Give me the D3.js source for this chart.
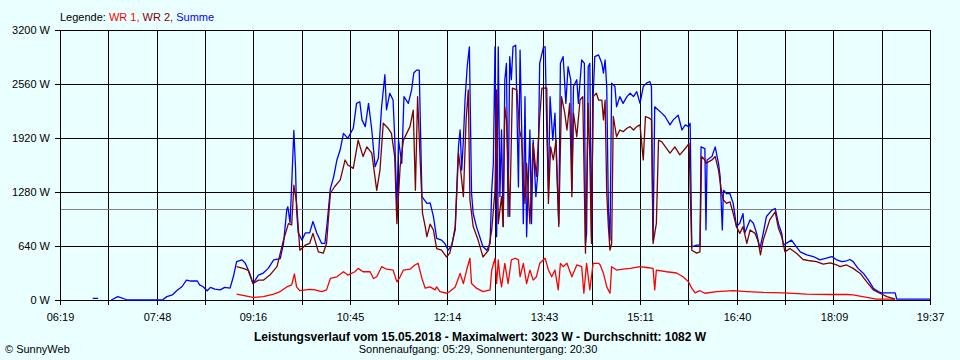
<!DOCTYPE html>
<html>
<head>
<meta charset="utf-8">
<script src="https://cdnjs.cloudflare.com/ajax/libs/d3/7.8.5/d3.min.js"></script>
<style>
  body { margin: 0; background: #eaffff; }
  svg { display: block; }
  text { font-family: "Liberation Sans", Arial, sans-serif; font-size: 11px; fill: black; }
</style>
</head>
<body>
<div id="chart"></div>
<script>
// x axis labels (time of day), y axis ticks (W)
var xTickLabels = ["06:19", "07:48", "09:16", "10:45", "12:14", "13:43", "15:11", "16:40", "18:09", "19:37"];
var yTicks = [0, 640, 1280, 1920, 2560, 3200];
var average = 1082;

// Summe (blue) - minutes since midnight / watts
var summeTimes = [409, 414, 415, 426, 432, 441, 473, 477, 482, 486, 491, 495, 499, 505, 507, 510, 514, 517, 521, 526,
  530, 535, 538, 541, 546, 549, 553, 556, 561, 565, 570, 575, 581, 584, 587, 588, 590, 591.5, 593.5, 595,
  596, 597.5, 601, 604, 608, 611, 614.5, 619, 622, 624, 627, 630, 633, 636, 639, 643, 648, 651, 654, 656,
  659, 662, 665, 668, 671, 674, 677, 678.5, 681.5, 684.5, 686, 688, 689.5, 692.5, 694.5, 698.5, 701.5, 703.5, 706, 708.5,
  711, 715.5, 718.5, 721.5, 724.5, 729, 732, 735, 738.5, 741.5, 744.5, 746, 747.5, 749, 750.5, 752.5, 754.5, 756.5, 758, 761,
  764, 767, 770.5, 773.5, 775, 776.5, 778, 779.5, 781, 782.5, 784, 785.5, 787, 788.5, 790, 791.5, 793, 794.5, 797, 799.5,
  801, 802.5, 804, 805.5, 807, 810, 811.5, 813, 815.5, 817.5, 819, 822.5, 824, 825.5, 827, 828.5, 831, 833, 834.5, 836.5,
  838, 840.5, 843, 845, 847.5, 848.5, 850, 853, 854.5, 857.5, 860, 861, 862, 863.5, 865, 866.5, 868, 869.5, 873, 876,
  877.5, 879, 880.5, 882, 883.5, 885, 888, 889.5, 892.5, 895.5, 899, 902, 905, 908, 911, 914, 917, 920, 921.5, 923,
  924.5, 928, 931, 934, 938.5, 941.5, 946, 949.5, 952.5, 955.5, 957, 958.5, 963, 966, 967, 970.5, 971.5, 972.5, 977, 980,
  983, 984.5, 986.5, 987.5, 990.5, 993.5, 996.5, 999.5, 1002.5, 1005.5, 1007, 1012, 1015, 1018, 1021, 1024, 1027, 1032, 1035, 1038,
  1041, 1042.5, 1050, 1054.5, 1058, 1064, 1070, 1076, 1082, 1087, 1091.5, 1096, 1100.5, 1103.5, 1106.5, 1111, 1116, 1120.5, 1125, 1129.5,
  1132.5, 1145, 1146.5, 1177];
var summeValues = [20, 20, null, 0, 40, 0, 0, 40, 60, 110, 160, 235, 225, 225, 180, 160, 110, 150, 130, 120,
  150, 140, 275, 455, 475, 435, 315, 195, 295, 315, 375, 475, 490, 670, 1070, 1105, 915, 1360, 2010, 1580,
  1070, 795, 710, 795, 795, 930, 795, 670, 670, 905, 1320, 1460, 1660, 1780, 1975, 1915, 2035, 2330, 2350, 2135,
  2055, 2330, 2015, 1580, 1680, 2290, 2670, 2255, 2450, 2370, 1935, 1070, 1895, 1620, 2410, 2330, 2490, 2690, 2725, 2725,
  1225, 1145, 1150, 990, 730, 710, 670, 590, 650, 870, 1820, 2015, 1540, 1900, 2370, 2765, 3000, 1265, 1025, 870,
  750, 630, 590, 670, 1300, 1620, 3000, 750, 3000, 1225, 2015, 870, 2610, 2805, 990, 2885, 2610, 3000, 3020, 1340,
  2960, 2015, 905, 2410, 750, 2015, 905, 1895, 1225, 1540, 2805, 3000, 3000, 2015, 1300, 2410, 1895, 2215, 1620, 905,
  2805, 2885, 2330, 2765, 2610, 1300, 2530, 2610, 2330, 2845, 2805, 670, 790, 2765, 2805, 750, 2410, 2885, 2905, 2805,
  2690, 2845, 2530, 1070, 710, 2570, 2530, 2290, 2410, 2330, 2410, 2450, 2410, 2470, 2330, 2530, 2570, 2590, 2530, 710,
  2290, 2250, 2215, 2175, 2075, 2135, 2190, 2015, 2075, 2055, 2095, 630, 650, 650, 1815, 1795, 830, 1660, 1700, 1815,
  1620, 1465, 830, 1300, 1260, 1260, 1145, 870, 910, 1025, 790, 950, 910, 790, 610, 790, 990, 1065, 1085, 905,
  790, 650, 710, 630, 570, 535, 515, 475, 495, 515, 475, 455, 465, 480, 455, 375, 315, 235, 140, 100,
  85, 85, 10, 10];

// WR 2 (dark red)
var wr2Times = [541, 547, 551.5, 556, 561, 565.5, 571.5, 578, 584, 588.5, 591.5, 593.5, 596, 599, 604, 608, 611, 616, 620.5, 623.5,
  627, 631, 636, 640.5, 643, 648, 652.5, 657, 660.5, 665, 669.5, 672.5, 675.5, 680, 683, 686, 688, 691, 694, 700,
  703, 705, 707, 709.5, 711.5, 714, 715.5, 718.5, 721.5, 724.5, 729, 733.5, 736.5, 741.5, 744.5, 746.5, 749, 751.5, 753.5, 755,
  758, 762.5, 767, 772, 775, 778, 779.5, 781, 784, 785.5, 787, 788.5, 791.5, 794, 798, 800.5, 802.5, 805.5, 807, 810,
  813, 816, 819, 821, 825.5, 827, 829, 831.5, 834, 836.5, 839, 842, 844, 846.5, 848.5, 850, 853, 856, 858.5, 861,
  863.5, 865, 866.5, 868, 871, 873, 876, 877.5, 879, 880.5, 882, 883.5, 885, 886.5, 889.5, 892.5, 895.5, 899, 902, 905,
  908, 911, 914, 916, 919.5, 921.5, 923, 926, 928, 931, 935.5, 938.5, 943, 947.5, 952.5, 956, 958.5, 963, 966, 967.5,
  970.5, 971.5, 977, 980, 983, 986, 987.5, 990.5, 993.5, 996.5, 999.5, 1002.5, 1005.5, 1009, 1012, 1016.5, 1019.5, 1021.5, 1024, 1027,
  1030, 1035, 1038, 1041, 1044, 1048.5, 1054.5, 1060.5, 1067, 1073, 1079, 1085.5, 1091.5, 1094.5, 1100.5, 1106.5, 1113, 1119, 1125, 1131,
  1137.5, 1145];
var wr2Values = [395, 375, 355, 195, 235, 235, 295, 395, 710, 905, 890, 1360, 1150, 590, 650, 670, 790, 570, 555, 670,
  1265, 1345, 1420, 1660, 1600, 1560, 1895, 1700, 1815, 1740, 1300, 1540, 2095, 2035, 1975, 1700, 905, 1580, 1895, 2055,
  2250, 1300, 2410, 1620, 1030, 870, 750, 900, 830, 610, 590, 510, 555, 830, 1740, 1540, 1225, 2135, 2490, 1185,
  870, 710, 510, 590, 830, 1300, 2490, 905, 1225, 870, 2290, 2135, 990, 2510, 2490, 2015, 1895, 1145, 1620, 905,
  1855, 1465, 2175, 2510, 2510, 1145, 1815, 1660, 1895, 870, 2410, 2215, 2015, 2330, 1225, 2215, 1935, 2370, 2410, 555,
  2330, 1660, 670, 2410, 2450, 2370, 2370, 2135, 2370, 1265, 870, 590, 670, 2175, 1935, 2015, 1995, 2035, 2055, 2015,
  2055, 2075, 1660, 2175, 2155, 2135, 670, 905, 1895, 1875, 1795, 1740, 1815, 1720, 1795, 1855, 590, 555, 570, 1700,
  1660, 1620, 1660, 1700, 1540, 1260, 1185, 1145, 1165, 1025, 870, 790, 870, 670, 830, 790, 690, 535, 710, 830,
  950, 1045, 850, 750, 570, 610, 555, 480, 465, 455, 425, 440, 415, 395, 415, 375, 315, 215, 120, 80,
  40, 10];

// WR 1 (red)
var wr1Times = [541, 556, 565.5, 575, 581, 587, 591.5, 594, 596, 599, 608, 613, 619, 623.5, 627, 633, 639, 643, 649.5, 652.5,
  657, 663.5, 666.5, 669.5, 674, 678.5, 684.5, 688, 691, 694, 700, 704.5, 707.5, 711, 714, 718.5, 723, 724.5, 727.5, 733.5,
  736.5, 741.5, 746, 749, 752, 755, 756.5, 761, 767, 773.5, 775, 778, 779.5, 781, 782.5, 784, 787, 790, 793, 796.5,
  799.5, 801, 804, 807, 810, 813, 816, 819, 824, 827, 830, 833, 836, 838, 840.5, 844, 848.5, 853, 857.5, 859.5,
  862, 865, 868, 869.5, 873, 874.5, 877.5, 880.5, 883.5, 885, 889.5, 895.5, 902, 911, 917, 923, 924.5, 926, 935.5, 944.5,
  950.5, 955.5, 958.5, 961.5, 966, 970.5, 981.5, 996.5, 1009, 1024, 1042.5, 1064, 1085.5, 1100.5, 1106.5, 1119, 1128, 1145];
var wr1Values = [70, 30, 40, 70, 100, 155, 180, 310, 155, 110, 125, 120, 100, 120, 255, 275, 335, 295, 335, 375,
  335, 335, 255, 275, 395, 365, 355, 215, 275, 355, 365, 415, 435, 255, 140, 155, 120, 155, 100, 80,
  100, 155, 315, 195, 355, 495, 195, 140, 100, 120, 355, 495, 195, 475, 275, 155, 435, 195, 475, 495,
  475, 275, 435, 195, 355, 235, 275, 435, 495, 355, 275, 355, 120, 435, 395, 435, 275, 415, 395, 80,
  435, 120, 435, 435, 435, 415, 315, 155, 80, 395, 355, 365, 375, 395, 385, 375, 120, 355, 335, 320,
  275, 215, 140, 85, 110, 80, 100, 110, 100, 90, 85, 70, 65, 65, 60, 30, 10, 10];

(function () {

  var margin = { top: 30, left: 60, right: 30, bottom: 60 },
      width = 960 - margin.left - margin.right,
      height = 360 - margin.top - margin.bottom;

  function toMinutes(s) {
    var p = s.split(":");
    return +p[0] * 60 + +p[1];
  }

  function zip(times, values) {
    return times.map(function (t, i) { return { t: t, v: values[i] }; });
  }

  var root = d3.select("#chart")
      .append("svg")
      .attr("width", 960)
      .attr("height", 360);

  root.append("rect")
      .attr("width", 960)
      .attr("height", 360)
      .attr("fill", "#eaffff");

  var svg = root.append("g")
      .attr("transform", "translate(" + margin.left + "," + margin.top + ")");

  var start = toMinutes(xTickLabels[0]),
      end = toMinutes(xTickLabels[xTickLabels.length - 1]);

  var xPositionScale = d3.scaleLinear()
    .domain([start, end])
    .range([0, width]);

  var yPositionScale = d3.scaleLinear()
    .domain([0, d3.max(yTicks)])
    .range([height, 0]);

  // grid lines every half label step
  var steps = (xTickLabels.length - 1) * 2;
  var gridTimes = d3.range(steps + 1).map(function (i) {
    return start + i * (end - start) / steps;
  });

  svg.selectAll(".vgrid")
     .data(gridTimes)
     .enter().append("line")
     .attr("class", "vgrid")
     .attr("x1", function (d) { return Math.round(xPositionScale(d)) + 0.5; })
     .attr("x2", function (d) { return Math.round(xPositionScale(d)) + 0.5; })
     .attr("y1", 0)
     .attr("y2", height + 5)
     .attr("stroke", "black")
     .attr("stroke-width", 1);

  svg.selectAll(".hgrid")
     .data(yTicks)
     .enter().append("line")
     .attr("class", "hgrid")
     .attr("x1", -5)
     .attr("x2", width + 1)
     .attr("y1", function (d) { return Math.round(yPositionScale(d)) + 0.5; })
     .attr("y2", function (d) { return Math.round(yPositionScale(d)) + 0.5; })
     .attr("stroke", "black")
     .attr("stroke-width", 1);

  // average line
  svg.append("line")
     .attr("x1", 1)
     .attr("x2", width)
     .attr("y1", Math.round(yPositionScale(average)) + 0.5)
     .attr("y2", Math.round(yPositionScale(average)) + 0.5)
     .attr("stroke", "#808080")
     .attr("stroke-width", 1);

  svg.selectAll(".ylabel")
     .data(yTicks)
     .enter().append("text")
     .attr("class", "ylabel")
     .text(function (d) { return d + " W"; })
     .attr("x", -10)
     .attr("y", function (d) { return yPositionScale(d) + 4; })
     .attr("text-anchor", "end");

  svg.selectAll(".xlabel")
     .data(xTickLabels)
     .enter().append("text")
     .attr("class", "xlabel")
     .text(function (d) { return d; })
     .attr("x", function (d) { return xPositionScale(toMinutes(d)) + 0.5; })
     .attr("y", height + 21)
     .attr("text-anchor", "middle");

  var line = d3.line()
    .defined(function (d) { return d.v !== null; })
    .x(function (d) { return xPositionScale(d.t); })
    .y(function (d) { return yPositionScale(d.v); });

  var series = [
    { data: zip(summeTimes, summeValues), color: "#0000ff" },
    { data: zip(wr1Times, wr1Values), color: "#ff0000" },
    { data: zip(wr2Times, wr2Values), color: "#800000" }
  ];

  svg.selectAll(".series")
     .data(series)
     .enter().append("path")
     .attr("class", "series")
     .attr("d", function (d) { return line(d.data); })
     .attr("fill", "none")
     .attr("stroke", function (d) { return d.color; })
     .attr("stroke-width", 1.3)
     .attr("stroke-linejoin", "round");

  // legend
  var legend = root.append("text")
     .attr("x", 60)
     .attr("y", 21);
  legend.append("tspan").text("Legende: ");
  legend.append("tspan").text("WR 1, ").style("fill", "#ff0000");
  legend.append("tspan").text("WR 2, ").style("fill", "#800000");
  legend.append("tspan").text("Summe").style("fill", "#0000ff");

  root.append("text")
     .text("Leistungsverlauf vom 15.05.2018 - Maximalwert: 3023 W - Durchschnitt: " + average + " W")
     .attr("x", 480)
     .attr("y", 341)
     .attr("text-anchor", "middle")
     .style("font-weight", "bold")
     .style("font-size", "12px");

  root.append("text")
     .text("Sonnenaufgang: 05:29, Sonnenuntergang: 20:30")
     .attr("x", 478)
     .attr("y", 353)
     .attr("text-anchor", "middle");

  root.append("text")
     .text("\u00a9 SunnyWeb")
     .attr("x", 5)
     .attr("y", 353);

})();
</script>
</body>
</html>
